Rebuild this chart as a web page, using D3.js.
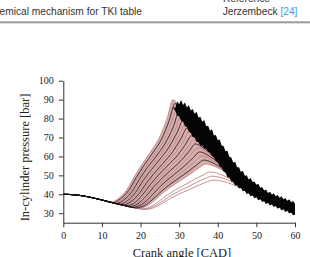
<!DOCTYPE html>
<html><head><meta charset="utf-8">
<script src="https://cdn.jsdelivr.net/npm/d3@7"></script>
<style>
html,body{margin:0;padding:0;background:#fff;}
svg{display:block;}
</style></head><body>
<svg id="c" width="310" height="257"></svg>
<script>
// ---- data ----
const xTicks = [0, 10, 20, 30, 40, 50, 60];
const yTicks = [30, 40, 50, 60, 70, 80, 90, 100];

// shared early part of every cycle [crank angle, pressure]
const baseTrace = [[0,40.0],[2.5,39.8],[5,39.2],[7.5,38.2],[10,37.0],[12.5,35.7],[15,34.5],[17.5,33.3],[20,32.3]];

// non-knocking cycles (pink)
const pinkCycles = [
 [[12.4,35.8],[14.4,38.0],[16.4,42.3],[18.4,49.3],[20.4,55.8],[22.4,61.8],[24.9,70.0],[26.9,80.2],[28.4,90.0],[30.4,84.8],[33.4,74.3],[38.4,61.0],[43.4,49.4],[48.4,41.3],[60,32.0]],
 [[13.3,35.3],[15.3,37.4],[17.3,41.8],[19.3,48.6],[21.4,54.8],[23.4,60.4],[25.9,68.0],[27.9,77.2],[29.5,85.8],[31.5,81.3],[34.5,71.9],[39.5,59.1],[44.5,47.9],[49.5,39.9],[60,31.9]],
 [[14.1,34.9],[16.2,36.9],[18.2,41.2],[20.3,47.8],[22.3,53.6],[24.4,58.9],[26.9,66.0],[29.0,74.2],[30.5,81.5],[32.5,77.6],[35.5,69.3],[40.5,57.0],[45.5,46.4],[50.5,38.5],[60,31.9]],
 [[15.0,34.5],[17.1,36.3],[19.1,40.7],[21.2,46.9],[23.3,52.4],[25.4,57.3],[27.9,63.9],[30.0,71.1],[31.6,77.3],[33.6,74.0],[36.6,66.7],[41.6,55.0],[46.6,45.0],[51.6,37.4],[60,31.9]],
 [[15.8,34.1],[17.9,35.8],[20.0,40.0],[22.1,45.8],[24.2,51.0],[26.3,55.6],[28.9,61.6],[31.1,67.9],[32.6,73.0],[34.6,70.3],[37.6,63.9],[42.6,52.9],[47.6,43.5],[52.6,36.2],[60,31.8]],
 [[16.7,33.7],[18.8,35.3],[21.0,39.3],[23.1,44.7],[25.2,49.5],[27.3,53.7],[30.0,59.1],[32.1,64.5],[33.7,68.8],[35.7,66.6],[38.7,61.0],[43.7,50.9],[48.7,42.2],[53.7,35.3],[60,31.8]],
 [[17.6,33.3],[19.7,34.7],[21.9,38.5],[24.0,43.5],[26.2,47.8],[28.3,51.6],[31.0,56.5],[33.1,61.1],[34.8,64.5],[36.8,62.7],[39.8,58.0],[44.8,48.7],[49.8,40.8],[54.8,34.4],[60,31.7]],
 [[18.4,32.9],[20.6,34.2],[22.8,37.7],[25.0,42.2],[27.1,46.1],[29.3,49.5],[32.0,53.8],[34.2,57.6],[35.8,60.3],[37.8,58.9],[40.8,55.0],[45.8,46.6],[50.8,39.5],[55.8,33.7],[60,31.7]],
 [[19.3,32.6],[21.5,33.7],[23.7,36.9],[25.9,40.9],[28.1,44.3],[30.3,47.2],[33.0,50.9],[35.2,54.0],[36.9,56.0],[38.9,55.0],[41.9,51.8],[46.9,44.4],[51.9,38.1],[56.9,33.0],[60,31.6]],
 [[20.1,32.3],[22.4,33.3],[24.6,36.0],[26.8,39.4],[29.0,42.3],[31.3,44.8],[34.0,47.9],[36.3,50.3],[37.9,51.8],[39.9,51.1],[42.9,48.5],[47.9,42.2],[52.9,36.9],[57.9,32.5],[60,31.6]],
 [[20.6,32.1],[22.8,33.0],[25.1,35.5],[27.3,38.6],[29.5,41.2],[31.8,43.5],[34.5,46.3],[36.8,48.4],[38.5,49.6],[40.5,49.0],[43.5,46.8],[48.5,41.1],[53.5,36.2],[58.5,32.2],[60,31.5]],
 [[21.0,32.0],[23.3,32.8],[25.5,35.1],[27.8,37.9],[30.0,40.2],[32.3,42.2],[35.0,44.7],[37.3,46.6],[39.0,47.5],[41.0,47.0],[44.0,45.1],[49.0,40.0],[54.0,35.7],[59.0,32.0],[60,31.5]]
];

// knocking cycles (black)
const blackCycles = [
 [[12.8,35.5],[14.8,37.6],[16.9,42.0],[18.9,48.9],[20.9,55.3],[22.9,61.1],[25.4,69.0],[27.4,78.8],[28.9,87.9],[30.9,83.0],[33.9,73.1],[38.9,60.0],[43.9,48.7],[48.9,40.6],[60,32.0]],
 [[13.7,35.1],[15.7,37.1],[17.8,41.5],[19.8,48.2],[21.8,54.2],[23.9,59.7],[26.4,67.0],[28.5,75.7],[30.0,83.6],[32.0,79.4],[35.0,70.6],[40.0,58.0],[45.0,47.1],[50.0,39.2],[60,31.9]],
 [[14.6,34.7],[16.6,36.6],[18.7,41.0],[20.7,47.3],[22.8,53.0],[24.9,58.2],[27.4,65.0],[29.5,72.7],[31.1,79.4],[33.1,75.8],[36.1,68.0],[41.1,56.0],[46.1,45.7],[51.1,38.0],[60,31.9]],
 [[15.4,34.3],[17.5,36.1],[19.6,40.3],[21.7,46.4],[23.8,51.7],[25.9,56.5],[28.4,62.7],[30.5,69.5],[32.1,75.1],[34.1,72.1],[37.1,65.2],[42.1,53.9],[47.1,44.2],[52.1,36.8],[60,31.8]],
 [[16.3,33.9],[18.4,35.5],[20.5,39.7],[22.6,45.3],[24.7,50.3],[26.8,54.7],[29.5,60.4],[31.6,66.2],[33.2,70.9],[35.2,68.4],[38.2,62.5],[43.2,51.9],[48.2,42.8],[53.2,35.8],[60,31.8]],
 [[17.1,33.5],[19.3,35.0],[21.4,38.9],[23.5,44.1],[25.7,48.7],[27.8,52.7],[30.5,57.8],[32.6,62.8],[34.2,66.6],[36.2,64.6],[39.2,59.5],[44.2,49.7],[49.2,41.4],[54.2,34.8],[60,31.7]],
 [[18.0,33.1],[20.2,34.5],[22.3,38.1],[24.5,42.9],[26.6,47.0],[28.8,50.6],[31.5,55.2],[33.7,59.4],[35.3,62.4],[37.3,60.8],[40.3,56.5],[45.3,47.6],[50.3,40.1],[55.3,34.0],[60,31.7]],
 [[18.9,32.8],[21.0,34.0],[23.2,37.4],[25.4,41.6],[27.6,45.2],[29.8,48.4],[32.5,52.3],[34.7,55.8],[36.4,58.1],[38.4,56.9],[41.4,53.3],[46.4,45.4],[51.4,38.8],[56.4,33.3],[60,31.6]]
];

// envelope of the knock oscillations, sampled every 0.5 CAD from 28.5 to 60
const knockStart = 28.5, knockStep = 0.5;
const knockTop = [86,85.7,89,87.5,89.8,87.2,88.5,85.9,87.2,84.2,85,82.5,83.6,80.5,81,78.3,79.2,75.9,76.2,73.5,74.3,71,71.3,68.5,69,65.8,65.5,62.8,63,59.8,59.5,56.8,57.2,54.3,54.3,51.8,52.4,49.8,50,47.8,48.6,46.5,46.8,45,45.6,43.5,43.8,42,42.6,40.7,41.3,39.9,40.6,39,39.6,38.2,39,37.4,38,36.6,37.4,35.8,36.4,35];
const knockBottom = [85.5,84.0,81.5,81.2,78.8,78.5,76.0,75.5,73.0,72.5,70.3,70.0,67.8,67.5,65.7,65.8,64.0,64.2,62.3,62.5,60.2,59.8,57.5,57.1,54.8,54.4,52.0,51.5,49.0,48.9,46.8,46.6,44.5,44.8,43.1,43.4,41.6,41.9,40.2,40.5,39.0,39.4,37.9,38.4,36.9,37.4,35.9,36.3,34.8,35.5,34.1,34.7,33.3,33.8,32.4,33.0,31.5,32.1,30.7,31.3,29.8,30.4,28.9,29.2];

// ---- drawing ----
const svg = d3.select('#c');
const x = d3.scaleLinear().domain([0, 60]).range([63.3, 295]);
const y = d3.scaleLinear().domain([25, 100]).range([222.7, 80.7]);

// header strip
const hdr = svg.append('g').attr('font-family', '"Liberation Sans", Arial, sans-serif').attr('font-size', 10.2).attr('fill', '#333');
hdr.append('text').attr('x', 223).attr('y', 1.6).text('Reference');
hdr.append('text').attr('x', -0.5).attr('y', 14.8).text('emical mechanism for TKI table');
const jt = hdr.append('text').attr('x', 222.7).attr('y', 14.8);
jt.append('tspan').text('Jerzembeck ');
jt.append('tspan').attr('fill', '#3d9bd6').text('[24]');
svg.append('rect').attr('x', 0).attr('y', 21.3).attr('width', 310).attr('height', 2).attr('fill', '#9a9a9a');

function fullCycle(c) {
  const a0 = c[0][0];
  return baseTrace.filter(p => p[0] < a0 - 0.5).concat(c);
}
const line = d3.line().x(d => x(d[0])).y(d => y(d[1])).curve(d3.curveMonotoneX);

// pink fill of the dense fan (between earliest cycle and a late cycle)
const upper = fullCycle(pinkCycles[0]);
const lower = fullCycle(pinkCycles[8]);
svg.append('clipPath').attr('id', 'fanClip').append('path')
  .attr('d', d3.area().x(d => x(d[0])).y0(y(100) - 5).y1(d => y(d[1])).curve(d3.curveMonotoneX)(lower));
svg.append('path')
  .attr('clip-path', 'url(#fanClip)')
  .attr('fill', '#d7adad')
  .attr('d', d3.area().x(d => x(d[0])).y0(y(25)).y1(d => y(d[1])).curve(d3.curveMonotoneX)(upper));

svg.append('g').selectAll('path').data(pinkCycles).join('path')
  .attr('fill', 'none').attr('stroke', '#bd8787').attr('stroke-width', 0.9)
  .attr('d', c => line(fullCycle(c)));

svg.append('g').selectAll('path').data(blackCycles).join('path')
  .attr('fill', 'none').attr('stroke', '#141010').attr('stroke-width', 0.8)
  .attr('d', c => line(fullCycle(c)));

// knock oscillation band
const knock = knockTop.map((v, i) => ({a: knockStart + i * knockStep, hi: v, lo: knockBottom[i]}));
svg.append('path').attr('fill', '#050505')
  .attr('d', d3.area().x(d => x(d.a)).y0(d => y(d.lo)).y1(d => y(d.hi)).curve(d3.curveLinear)(knock));

// axes
const serif = '"Liberation Serif", "Times New Roman", serif';
const gx = svg.append('g').attr('transform', `translate(0,${y(25)})`)
  .call(d3.axisBottom(x).tickValues(xTicks).tickSize(4.5).tickSizeOuter(0).tickPadding(5));
const gy = svg.append('g').attr('transform', `translate(${x(0)},0)`)
  .call(d3.axisLeft(y).tickValues(yTicks).tickSize(4.5).tickSizeOuter(0).tickPadding(5));
[gx, gy].forEach(g => {
  g.selectAll('.domain,line').attr('stroke', '#333').attr('stroke-width', 1);
  g.selectAll('text').attr('font-family', serif).attr('font-size', 10).attr('fill', '#222');
});

svg.append('text').attr('x', 182).attr('y', 256.5).attr('text-anchor', 'middle')
  .attr('font-family', serif).attr('font-size', 12.5).attr('fill', '#222').text('Crank angle [CAD]');
svg.append('text').attr('transform', 'translate(28.5,157.5) rotate(-90)').attr('text-anchor', 'middle')
  .attr('font-family', serif).attr('font-size', 12.5).attr('fill', '#222').text('In-cylinder pressure [bar]');
</script>
</body></html>
